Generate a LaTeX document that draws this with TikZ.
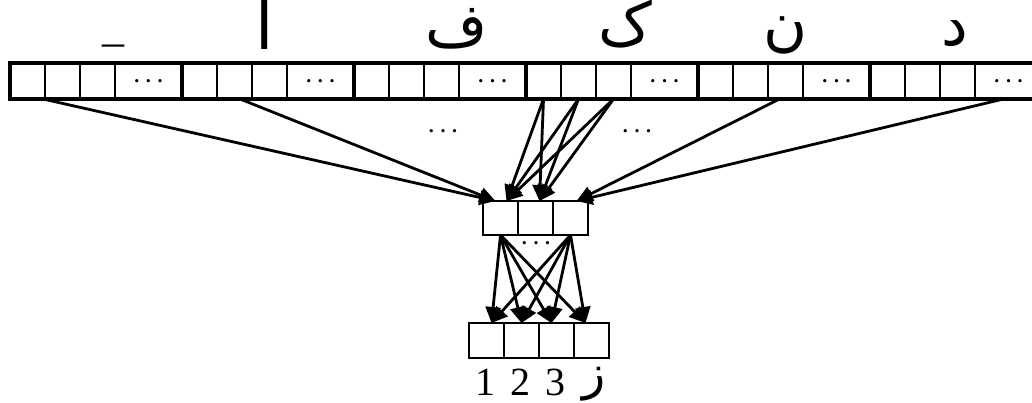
\documentclass[tikz,border=0pt]{standalone}
\usepackage{fontspec}
\setmainfont{Liberation Serif}
\newfontfamily\arabicfont[Script=Arabic]{DejaVu Sans}
\TeXXeTstate=1
\usetikzlibrary{arrows.meta,calc}
\begin{document}
\begin{tikzpicture}[x=1pt,y=-1pt,
  cell/.style={draw,line width=2.2pt,minimum width=35pt,minimum height=36pt,inner sep=0pt,outer sep=0pt,anchor=north west},
  wide/.style={cell,minimum width=67pt,font=\fontsize{20}{20}\bfseries},
  smallcell/.style={draw,line width=2.6pt,minimum width=35pt,minimum height=34pt,inner sep=0pt,outer sep=0pt,anchor=north west},
  grp/.style={line width=4.4pt},
  conn/.style={-{Triangle[length=16pt,width=15pt]},line width=2.8pt},
  dots/.style={font=\fontsize{20}{20}\bfseries,inner sep=0pt},
  arlabel/.style={font=\fontsize{60}{64}\arabicfont,anchor=base,inner sep=0pt},
  numlabel/.style={font=\fontsize{40}{44}\selectfont,anchor=base,inner sep=0pt}]
\clip (0,0) rectangle (1032,403);
% top row: six groups
\foreach \i in {1,...,6}{
  \pgfmathsetmacro\gx{10+172*(\i-1)}
  \node[cell] (g\i c1) at (\gx,63) {};
  \node[cell] (g\i c2) at (\gx+35,63) {};
  \node[cell] (g\i c3) at (\gx+70,63) {};
  \node[wide] (g\i d) at (\gx+105,63) {. . .};
  \draw[grp] (g\i c1.north west) rectangle (g\i d.south east);
}
% letters above the groups
\node[numlabel,font=\fontsize{44}{48}\selectfont] (t1) at (113,42) {\_};
\node[arlabel,font=\fontsize{66}{70}\arabicfont] (t2) at (265,50) {\beginR ا\endR};
\node[arlabel] (t3) at (457,47) {\beginR ف\endR};
\node[arlabel] (t4) at (625,46) {\beginR ک\endR};
\node[arlabel] (t5) at (786,45) {\beginR ن\endR};
\node[arlabel] (t6) at (955,46) {\beginR د\endR};
% middle box
\node[smallcell] (m1) at (483,201) {};
\node[smallcell] (m2) at (518,201) {};
\node[smallcell] (m3) at (553,201) {};
% bottom box
\node[smallcell,minimum height=35pt] (b1) at (469,323) {};
\node[smallcell,minimum height=35pt] (b2) at (504,323) {};
\node[smallcell,minimum height=35pt] (b3) at (539,323) {};
\node[smallcell,minimum height=35pt] (b4) at (574,323) {};
% ellipses
\node[dots] (el) at (443,131) {. . .};
\node[dots] (er) at (637,131) {. . .};
\node[dots] (em) at (536,243) {. . .};
% connectors top -> middle
\draw[conn] ([xshift=-2pt]g1c1.south east) -- ([xshift=-5pt]m1.north);
\draw[conn] ([xshift=-12pt]g2c2.south east) -- ([xshift=-5pt]m1.north);
\foreach \c in {1,2,3}{
  \draw[conn] (g4c\c.south) -- ([xshift=6pt]m1.north);
  \draw[conn] (g4c\c.south) -- ([xshift=4pt]m2.north);
}
\draw[conn] ([xshift=-6pt]g5c3.south) -- ([xshift=6pt]m3.north);
\draw[conn] ([xshift=-5pt]g6d.south) -- ([xshift=6pt]m3.north);
% connectors middle -> bottom
\foreach \s in {m1,m3}{
  \draw[conn] (\s.south) -- ([xshift=5pt]b1.north);
  \draw[conn] (\s.south) -- (b2.north);
  \draw[conn] (\s.south) -- ([xshift=-5pt]b3.north);
  \draw[conn] (\s.south) -- ([xshift=-6pt]b4.north);
}
% labels under bottom box
\node[numlabel] (n1) at (485,395) {1};
\node[numlabel] (n2) at (520,395) {2};
\node[numlabel] (n3) at (555,395) {3};
\node[arlabel,font=\fontsize{48}{52}\arabicfont] (n4) at (594,389) {\beginR ز\endR};
\end{tikzpicture}
\end{document}
